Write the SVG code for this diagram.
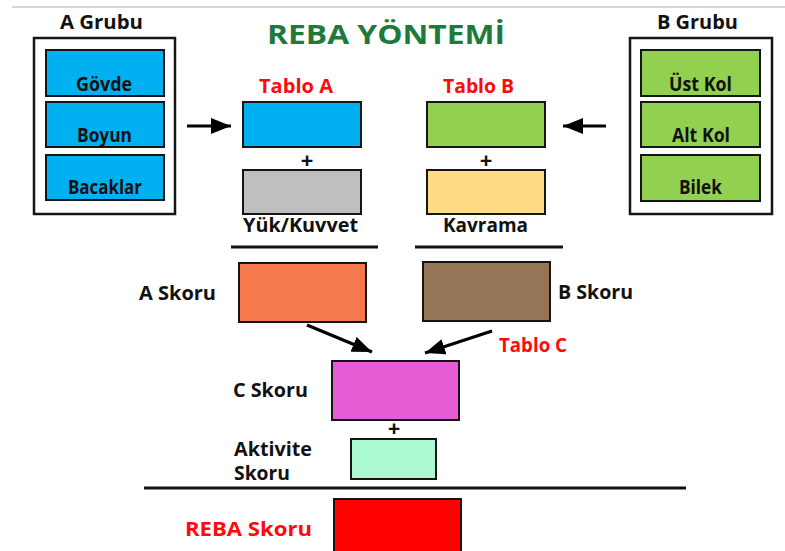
<svg xmlns="http://www.w3.org/2000/svg" width="785" height="551" viewBox="0 0 785 551">
<style>
text{font-family:"Open Sans","Liberation Sans",Arial,sans-serif;font-weight:700;fill:#111;}
.red{fill:#FF0A0A;}
.title{fill:#1E7A3B;font-size:26px;}
.lbl{font-size:19px;}
.big{font-size:20px;}
.plus{font-size:22px;text-anchor:middle;}
.box{stroke:#151515;stroke-width:2;}
.grp{fill:#fff;stroke:#151515;stroke-width:2.5;}
.sep{stroke:#111;stroke-width:3;}
.arr{stroke:#000;stroke-width:3.2;fill:none;}
</style>
<defs>
<marker id="ah" markerUnits="userSpaceOnUse" markerWidth="22" markerHeight="18" refX="20" refY="8" orient="auto">
<polygon points="0,0 20,8 0,16" fill="#000"/>
</marker>
</defs>
<line x1="12" y1="7" x2="785" y2="7" stroke="#c9c9c9" stroke-width="1.5"/>
<g id="title"><text class="title" x="267" y="44" textLength="238" lengthAdjust="spacingAndGlyphs">REBA YÖNTEMİ</text></g>

<g id="grupA">
<text class="lbl" x="60" y="29" textLength="83" lengthAdjust="spacingAndGlyphs">A Grubu</text>
<rect class="grp" x="34" y="38" width="141" height="176"/>
<rect class="box" x="46" y="50" width="118" height="46" fill="#00B0F0"/>
<text class="lbl" x="76" y="91" textLength="56" lengthAdjust="spacingAndGlyphs">Gövde</text>
<rect class="box" x="46" y="102" width="118" height="45" fill="#00B0F0"/>
<text class="lbl" x="77" y="142" textLength="55" lengthAdjust="spacingAndGlyphs">Boyun</text>
<rect class="box" x="46" y="155" width="118" height="45" fill="#00B0F0"/>
<text class="lbl" x="68" y="194" textLength="74" lengthAdjust="spacingAndGlyphs">Bacaklar</text>
</g>

<g id="grupB">
<text class="lbl" x="657" y="29" textLength="81" lengthAdjust="spacingAndGlyphs">B Grubu</text>
<rect class="grp" x="630" y="38" width="142" height="176"/>
<rect class="box" x="641" y="50" width="119" height="46" fill="#92D050"/>
<text class="lbl" x="669" y="91" textLength="63" lengthAdjust="spacingAndGlyphs">Üst Kol</text>
<rect class="box" x="641" y="102" width="119" height="45" fill="#92D050"/>
<text class="lbl" x="672" y="142" textLength="58" lengthAdjust="spacingAndGlyphs">Alt Kol</text>
<rect class="box" x="641" y="155" width="119" height="46" fill="#92D050"/>
<text class="lbl" x="679" y="194" textLength="43" lengthAdjust="spacingAndGlyphs">Bilek</text>
</g>

<g id="tabloA">
<text class="big red" x="259" y="93" textLength="74" lengthAdjust="spacingAndGlyphs">Tablo A</text>
<rect class="box" x="243" y="102" width="118" height="45" fill="#00B0F0"/>
<text class="plus" x="307" y="168">+</text>
</g>
<g id="yukKuvvet">
<rect class="box" x="243" y="170" width="118" height="44" fill="#BFBFBF"/>
<text class="lbl" x="243" y="232" textLength="115" lengthAdjust="spacingAndGlyphs">Yük/Kuvvet</text>
</g>

<g id="tabloB">
<text class="big red" x="443" y="93" textLength="71" lengthAdjust="spacingAndGlyphs">Tablo B</text>
<rect class="box" x="427" y="102" width="118" height="45" fill="#92D050"/>
<text class="plus" x="486" y="168">+</text>
</g>
<g id="kavrama">
<rect class="box" x="427" y="170" width="118" height="44" fill="#FFDB85"/>
<text class="lbl" x="443" y="232" textLength="85" lengthAdjust="spacingAndGlyphs">Kavrama</text>
</g>

<g id="aSkoru">
<rect class="box" x="239" y="263" width="127" height="59" fill="#F5794C"/>
<text class="lbl" x="139" y="300" textLength="77" lengthAdjust="spacingAndGlyphs">A Skoru</text>
</g>
<g id="bSkoru">
<rect class="box" x="423" y="262" width="127" height="59" fill="#967556"/>
<text class="lbl" x="558" y="299" textLength="75" lengthAdjust="spacingAndGlyphs">B Skoru</text>
</g>
<g id="tabloC">
<text class="big red" x="499" y="352" textLength="68" lengthAdjust="spacingAndGlyphs">Tablo C</text>
</g>
<g id="cSkoru">
<rect class="box" x="332" y="361" width="127" height="59" fill="#E65CD4"/>
<text class="lbl" x="233" y="397" textLength="75" lengthAdjust="spacingAndGlyphs">C Skoru</text>
<text class="plus" x="394" y="436">+</text>
</g>
<g id="aktivite">
<rect class="box" x="351" y="439" width="85" height="40" fill="#ABFAD2"/>
<text class="lbl" x="234" y="456" textLength="78" lengthAdjust="spacingAndGlyphs">Aktivite</text>
<text class="lbl" x="234" y="480" textLength="56" lengthAdjust="spacingAndGlyphs">Skoru</text>
</g>
<g id="rebaSkoru">
<rect class="box" x="334" y="499" width="127" height="60" fill="#FF0000"/>
<text class="big red" x="185" y="536" textLength="127" lengthAdjust="spacingAndGlyphs">REBA Skoru</text>
</g>

<g id="connectors">
<line class="arr" x1="187" y1="126" x2="231" y2="126" marker-end="url(#ah)"/>
<line class="arr" x1="606" y1="126" x2="563" y2="126" marker-end="url(#ah)"/>
<line class="sep" x1="231" y1="247" x2="378" y2="247"/>
<line class="sep" x1="415" y1="247" x2="563" y2="247"/>
<line class="arr" x1="307" y1="325" x2="372" y2="352" marker-end="url(#ah)"/>
<line class="arr" x1="492" y1="331" x2="425" y2="353" marker-end="url(#ah)"/>
<line class="sep" x1="144" y1="488" x2="686" y2="488"/>
</g>
</svg>
